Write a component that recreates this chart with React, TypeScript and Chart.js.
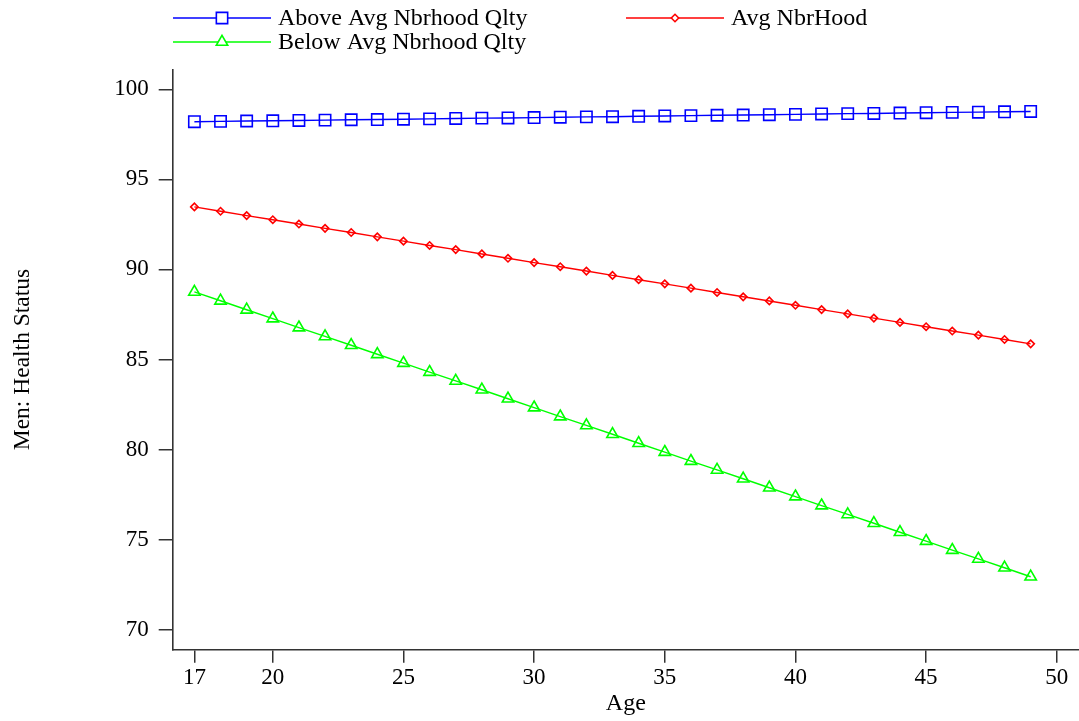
import React, { useEffect, useRef } from "react";
import { Chart, registerables } from "chart.js";

Chart.register(...registerables);

// Ages on the horizontal axis
const ages: number[] = [
  17, 18, 19, 20, 21, 22, 23, 24, 25, 26, 27, 28, 29, 30, 31, 32, 33,
  34, 35, 36, 37, 38, 39, 40, 41, 42, 43, 44, 45, 46, 47, 48, 49,
];

const aboveAvg: number[] = [
  98.2, 98.22, 98.24, 98.25, 98.27, 98.29, 98.31, 98.32, 98.34, 98.36, 98.38,
  98.4, 98.41, 98.43, 98.45, 98.47, 98.48, 98.5, 98.52, 98.54, 98.56, 98.57,
  98.59, 98.61, 98.63, 98.65, 98.66, 98.68, 98.7, 98.72, 98.73, 98.75, 98.77,
];

const avgHood: number[] = [
  93.47, 93.23, 92.99, 92.76, 92.52, 92.28, 92.05, 91.81, 91.57, 91.33, 91.1,
  90.86, 90.62, 90.38, 90.15, 89.91, 89.67, 89.43, 89.2, 88.96, 88.72, 88.48,
  88.25, 88.01, 87.77, 87.53, 87.3, 87.06, 86.82, 86.58, 86.35, 86.11, 85.87,
];

const belowAvg: number[] = [
  88.75, 88.26, 87.76, 87.27, 86.77, 86.28, 85.79, 85.29, 84.8, 84.3, 83.81,
  83.32, 82.82, 82.33, 81.83, 81.34, 80.85, 80.35, 79.86, 79.36, 78.87, 78.38,
  77.88, 77.39, 76.89, 76.4, 75.91, 75.41, 74.92, 74.42, 73.93, 73.44, 72.94,
];

const xTicks: number[] = [17, 20, 25, 30, 35, 40, 45, 50];
const yTicks: number[] = [70, 75, 80, 85, 90, 95, 100];

const seriesNames: string[] = [
  "Above Avg Nbrhood Qlty",
  "Avg NbrHood",
  "Below Avg Nbrhood Qlty",
];

const FONT = "'Liberation Serif', 'Times New Roman', serif";
const AXIS = "#333333";

// Legend entries: dataset index, line start x, centre y
const legendSlots = [
  { idx: 0, x: 173, y: 18 },
  { idx: 1, x: 626, y: 18 },
  { idx: 2, x: 173, y: 42 },
];

function drawMarker(
  ctx: CanvasRenderingContext2D,
  style: string,
  r: number,
  x: number,
  y: number
) {
  ctx.beginPath();
  if (style === "rect") {
    const s = Math.SQRT1_2 * r;
    ctx.rect(x - s, y - s, 2 * s, 2 * s);
  } else if (style === "rectRot") {
    ctx.moveTo(x - r, y);
    ctx.lineTo(x, y + r);
    ctx.lineTo(x + r, y);
    ctx.lineTo(x, y - r);
    ctx.closePath();
  } else {
    for (let k = 0; k < 3; k++) {
      const a = (k * 2 * Math.PI) / 3;
      const px = x + Math.sin(a) * r;
      const py = y - Math.cos(a) * r;
      if (k === 0) ctx.moveTo(px, py);
      else ctx.lineTo(px, py);
    }
    ctx.closePath();
  }
  ctx.fill();
  ctx.stroke();
}

// Legend with a line segment and the series marker in its middle
const legendPlugin = {
  id: "lineMarkerLegend",
  afterDraw(chart: any) {
    const ctx = chart.ctx as CanvasRenderingContext2D;
    ctx.save();
    legendSlots.forEach((slot) => {
      const ds = chart.data.datasets[slot.idx];
      const len = 98;
      ctx.strokeStyle = ds.borderColor;
      ctx.lineWidth = 1.4;
      ctx.beginPath();
      ctx.moveTo(slot.x, slot.y);
      ctx.lineTo(slot.x + len, slot.y);
      ctx.stroke();
      ctx.fillStyle = "#ffffff";
      ctx.strokeStyle = ds.pointBorderColor;
      ctx.lineWidth = ds.pointBorderWidth;
      drawMarker(ctx, ds.pointStyle, ds.pointRadius, slot.x + len / 2, slot.y);
      ctx.fillStyle = "#000000";
      ctx.font = `24px ${FONT}`;
      ctx.textBaseline = "middle";
      ctx.textAlign = "left";
      ctx.fillText(ds.label, slot.x + len + 7, slot.y + 1);
    });
    ctx.restore();
  },
};

export default function App() {
  const canvasRef = useRef<HTMLCanvasElement | null>(null);

  useEffect(() => {
    document.body.style.margin = "0";
    const canvas = canvasRef.current;
    if (!canvas) return;

    const mk = (
      label: string,
      values: number[],
      color: string,
      pointStyle: string,
      radius: number
    ) => ({
      label,
      data: ages.map((a, i) => ({ x: a, y: values[i] })),
      borderColor: color,
      backgroundColor: "#ffffff",
      borderWidth: 1.4,
      pointStyle,
      pointRadius: radius,
      pointBorderColor: color,
      pointBackgroundColor: "rgba(255,255,255,0)",
      pointBorderWidth: 1.6,
      tension: 0,
    });

    const chart = new Chart(canvas, {
      type: "line",
      data: {
        datasets: [
          mk(seriesNames[0], aboveAvg, "#0000ff", "rect", 8),
          mk(seriesNames[1], avgHood, "#ff0000", "rectRot", 3.7),
          mk(seriesNames[2], belowAvg, "#00ff00", "triangle", 6.6),
        ] as any,
      },
      options: {
        animation: false,
        responsive: false,
        maintainAspectRatio: false,
        layout: {
          autoPadding: false,
          padding: { top: 69.3, right: 0, left: 0, bottom: 0 },
        },
        plugins: {
          legend: { display: false },
          tooltip: { enabled: false },
        },
        scales: {
          x: {
            type: "linear",
            min: 16.17,
            max: 50.85,
            afterBuildTicks: (scale: any) => {
              scale.ticks = xTicks.map((v) => ({ value: v }));
            },
            afterFit: (scale: any) => {
              scale.height = 721 - 649.7;
              scale.paddingLeft = 0;
              scale.paddingRight = 0;
            },
            ticks: {
              color: "#000000",
              font: { family: FONT, size: 23 },
              padding: 1,
              maxRotation: 0,
              autoSkip: false,
            },
            grid: {
              drawOnChartArea: false,
              drawTicks: true,
              tickLength: 13,
              color: AXIS,
              lineWidth: 1.5,
            },
            border: { display: true, color: AXIS, width: 1.6 },
            title: {
              display: true,
              text: "Age",
              color: "#000000",
              font: { family: FONT, size: 24 },
              padding: { top: 0, bottom: 3 },
            },
          },
          y: {
            type: "linear",
            min: 68.89,
            max: 101.11,
            afterBuildTicks: (scale: any) => {
              scale.ticks = yTicks.map((v) => ({ value: v }));
            },
            afterFit: (scale: any) => {
              scale.width = 172.7;
              scale.paddingTop = 0;
              scale.paddingBottom = 0;
            },
            ticks: {
              color: "#000000",
              font: { family: FONT, size: 23 },
              padding: 10,
            },
            grid: {
              drawOnChartArea: false,
              drawTicks: true,
              tickLength: 14,
              color: AXIS,
              lineWidth: 1.5,
            },
            border: { display: true, color: AXIS, width: 1.6 },
            title: {
              display: true,
              text: "Men: Health Status",
              color: "#000000",
              font: { family: FONT, size: 23.5 },
              padding: { top: 9, bottom: 0 },
            },
          },
        },
      } as any,
      plugins: [legendPlugin],
    });

    return () => chart.destroy();
  }, []);

  return (
    <div style={{ width: 1079, height: 721, background: "#ffffff" }}>
      <canvas ref={canvasRef} width={1079} height={721} />
    </div>
  );
}
